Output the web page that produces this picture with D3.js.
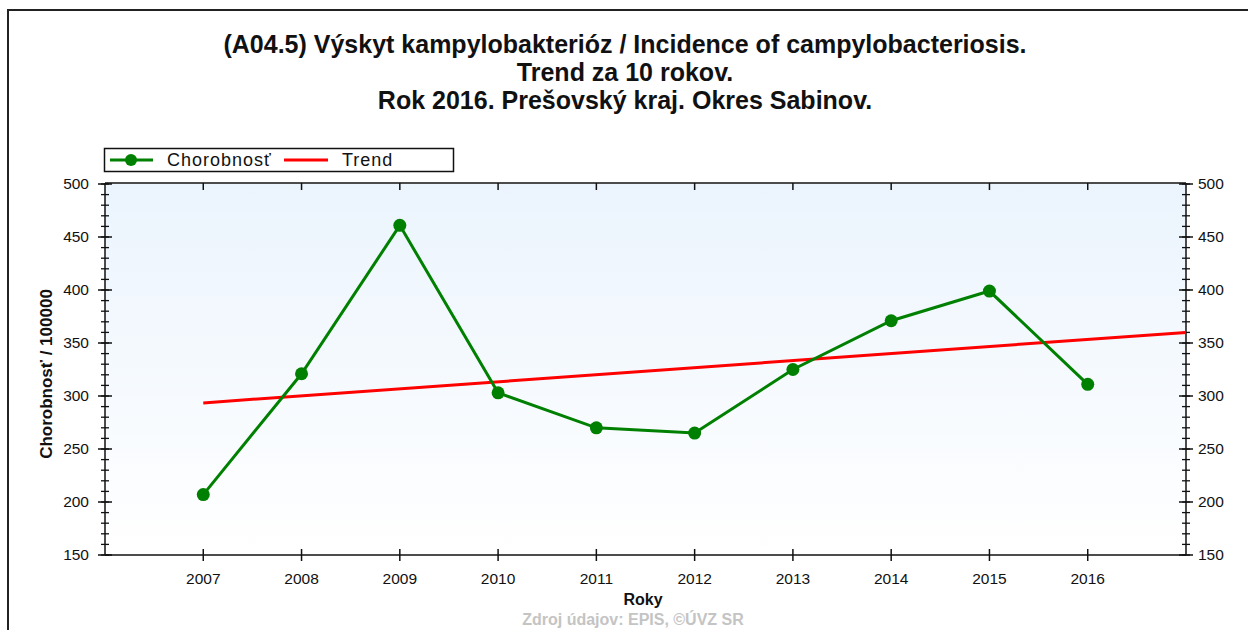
<!DOCTYPE html>
<html><head><meta charset="utf-8">
<script src="https://cdn.jsdelivr.net/npm/d3@7"></script>
<style>
html,body{margin:0;padding:0;background:#fff;}
svg{display:block;font-family:"Liberation Sans",Arial,sans-serif;}
</style></head><body>
<svg id="c" width="1248" height="630"></svg>
<script>
const titleLines = ["(A04.5) Výskyt kampylobakterióz / Incidence of campylobacteriosis.",
                    "Trend za 10 rokov.",
                    "Rok 2016. Prešovský kraj. Okres Sabinov."];
const years = [2007, 2008, 2009, 2010, 2011, 2012, 2013, 2014, 2015, 2016];
const incidence = [207, 321, 461, 303, 270, 265, 325, 371, 399, 311];
const trendYears = [2007, 2017];
const trendValues = [293.5, 360];
const yTicks = [150, 200, 250, 300, 350, 400, 450, 500];
const seriesNames = ["Chorobnosť", "Trend"];
const xTitle = "Roky";
const yTitle = "Chorobnosť / 100000";
const source = "Zdroj údajov: EPIS, ©ÚVZ SR";

const svg = d3.select("#c");
const L = 105, R = 1186, T = 184, B = 555;
const x = d3.scaleLinear().domain([2006, 2017]).range([L, R]);
const y = d3.scaleLinear().domain([150, 500]).range([B, T]);

// outer frame
svg.append("path").attr("d", `M8,630 L8,10 L1248,10`).attr("fill","none").attr("stroke","#222").attr("stroke-width",2);

// titles
svg.selectAll("text.title").data(titleLines).join("text")
  .attr("x", 625).attr("y", (d,i)=>53 + i*28)
  .attr("text-anchor","middle").attr("font-size",25).attr("font-weight","bold").attr("fill","#111")
  .text(d=>d);

// plot background gradient
const defs = svg.append("defs");
const g = defs.append("linearGradient").attr("id","bg").attr("x1",0).attr("y1",0).attr("x2",0).attr("y2",1);
g.append("stop").attr("offset","0%").attr("stop-color","#ebf4fd");
g.append("stop").attr("offset","100%").attr("stop-color","#ffffff");
svg.append("rect").attr("x",L).attr("y",T).attr("width",R-L).attr("height",B-T).attr("fill","url(#bg)");

// top border
svg.append("line").attr("x1",L).attr("x2",R).attr("y1",T-1).attr("y2",T-1).attr("stroke","#111").attr("stroke-width",1.5);
// top inward ticks
svg.selectAll("line.tt").data(years).join("line")
  .attr("x1",d=>x(d)).attr("x2",d=>x(d)).attr("y1",T-1).attr("y2",T+6).attr("stroke","#111").attr("stroke-width",1.5);

// axes
const minor = d3.range(150, 501, 10);
function yAxisDraw(xp, side){
  const ga = svg.append("g");
  ga.append("line").attr("x1",xp).attr("x2",xp).attr("y1",T-1).attr("y2",B).attr("stroke","#111").attr("stroke-width",1.5);
  ga.selectAll("line.mn").data(minor).join("line")
    .attr("x1",xp-4).attr("x2",xp+4).attr("y1",d=>y(d)).attr("y2",d=>y(d)).attr("stroke","#111").attr("stroke-width",1.3);
  ga.selectAll("line.mj").data(yTicks).join("line")
    .attr("x1",xp-7).attr("x2",xp+7).attr("y1",d=>y(d)).attr("y2",d=>y(d)).attr("stroke","#111").attr("stroke-width",1.5);
  ga.selectAll("text").data(yTicks).join("text")
    .attr("x", side<0 ? xp-16 : xp+12).attr("y",d=>y(d)+5)
    .attr("text-anchor", side<0 ? "end":"start").attr("font-size",15.5).attr("fill","#111")
    .text(d=>d);
}
yAxisDraw(L,-1);
yAxisDraw(R,1);

// x axis
svg.append("line").attr("x1",L).attr("x2",R).attr("y1",B).attr("y2",B).attr("stroke","#111").attr("stroke-width",1.5);
svg.selectAll("line.xt").data(years).join("line")
  .attr("x1",d=>x(d)).attr("x2",d=>x(d)).attr("y1",B-6).attr("y2",B+6).attr("stroke","#111").attr("stroke-width",1.5);
svg.selectAll("text.xl").data(years).join("text")
  .attr("x",d=>x(d)).attr("y",B+29).attr("text-anchor","middle").attr("font-size",15.5).attr("fill","#111")
  .text(d=>d);

svg.append("text").attr("x",643).attr("y",605).attr("text-anchor","middle").attr("font-size",16).attr("font-weight","bold").attr("fill","#111").text(xTitle);
svg.append("text").attr("transform","translate(52,374) rotate(-90)").attr("text-anchor","middle").attr("font-size",17).attr("font-weight","bold").attr("fill","#111").text(yTitle);
svg.append("text").attr("x",633).attr("y",625).attr("text-anchor","middle").attr("font-size",16).attr("font-weight","bold").attr("fill","#c4c4c4").text(source);

// trend
const line = d3.line().x(d=>x(d[0])).y(d=>y(d[1]));
svg.append("path").datum(trendYears.map((d,i)=>[d,trendValues[i]])).attr("d",line)
  .attr("fill","none").attr("stroke","#ff0000").attr("stroke-width",3);
// series
const pts = years.map((d,i)=>[d,incidence[i]]);
svg.append("path").datum(pts).attr("d",line).attr("fill","none").attr("stroke","#008000").attr("stroke-width",3);
svg.selectAll("circle.p").data(pts).join("circle")
  .attr("cx",d=>x(d[0])).attr("cy",d=>y(d[1])).attr("r",6.5).attr("fill","#008000");

// legend
const lg = svg.append("g");
lg.append("rect").attr("x",104.5).attr("y",148.5).attr("width",349).attr("height",23).attr("fill","#fff").attr("stroke","#111").attr("stroke-width",1.5);
lg.append("line").attr("x1",110).attr("x2",153).attr("y1",160).attr("y2",160).attr("stroke","#008000").attr("stroke-width",3);
lg.append("circle").attr("cx",131).attr("cy",160).attr("r",6).attr("fill","#008000");
lg.append("text").attr("x",167).attr("y",166).attr("font-size",18).attr("letter-spacing",1).attr("fill","#111").text(seriesNames[0]);
lg.append("line").attr("x1",284).attr("x2",328).attr("y1",160).attr("y2",160).attr("stroke","#ff0000").attr("stroke-width",3);
lg.append("text").attr("x",342).attr("y",166).attr("font-size",18).attr("letter-spacing",1).attr("fill","#111").text(seriesNames[1]);
</script>
</body></html>
